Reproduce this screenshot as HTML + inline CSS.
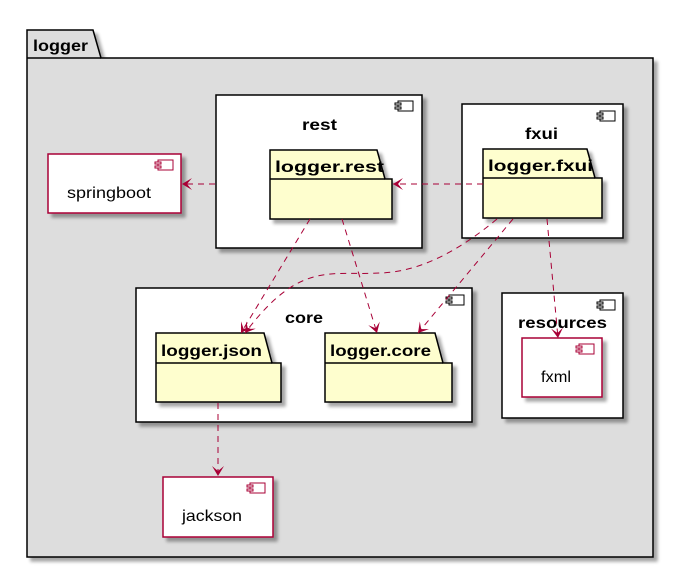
<!DOCTYPE html>
<html><head><meta charset="utf-8"><style>body{margin:0;background:#fff}svg{display:block}</style></head>
<body>
<svg width="678" height="571" viewBox="0 0 678 571" xmlns="http://www.w3.org/2000/svg" font-family="Liberation Sans, sans-serif">
<defs>
<filter id="sh" x="-10%" y="-10%" width="130%" height="130%"><feGaussianBlur in="SourceAlpha" stdDeviation="1.5"/><feOffset dx="4" dy="4"/><feComponentTransfer><feFuncA type="linear" slope="0.35"/></feComponentTransfer><feMerge><feMergeNode/><feMergeNode in="SourceGraphic"/></feMerge></filter>
<marker id="ar" viewBox="0 0 12 12" refX="10" refY="6" markerWidth="12" markerHeight="12" orient="auto" markerUnits="userSpaceOnUse"><path d="M0,0 L10,6 L0,12 L5,6 Z" fill="#A80036"/></marker>
</defs>
<!-- logger package -->
<g filter="url(#sh)">
<path d="M27,30 L93,30 L101,58 L653,58 L653,557 L27,557 Z" fill="#DDDDDD" stroke="#000" stroke-width="1.5"/>
</g>
<line x1="27" y1="58" x2="101" y2="58" stroke="#000" stroke-width="1.5"/>
<text x="33" y="51" font-size="16" font-weight="bold" textLength="55" lengthAdjust="spacingAndGlyphs">logger</text>

<!-- rest -->
<rect x="216" y="95" width="206" height="153" fill="#fff" stroke="#000" stroke-width="1.5" filter="url(#sh)"/>
<rect x="398" y="101" width="15" height="10" fill="#fff" stroke="#000" stroke-width="1"/><rect x="395" y="103" width="6" height="2" fill="#fff" stroke="#000" stroke-width="1"/><rect x="395" y="107" width="6" height="2" fill="#fff" stroke="#000" stroke-width="1"/>
<text x="302" y="130" font-size="16" font-weight="bold" textLength="35" lengthAdjust="spacingAndGlyphs">rest</text>
<g filter="url(#sh)"><path d="M270,150 L377,150 L385,179 L392,179 L392,219 L270,219 Z" fill="#FEFECE" stroke="#000" stroke-width="1.5"/></g>
<line x1="270" y1="179" x2="385" y2="179" stroke="#000" stroke-width="1.5"/>
<text x="275" y="172" font-size="16" font-weight="bold" textLength="109" lengthAdjust="spacingAndGlyphs">logger.rest</text>

<!-- fxui -->
<rect x="462" y="104" width="161" height="134" fill="#fff" stroke="#000" stroke-width="1.5" filter="url(#sh)"/>
<rect x="600" y="111" width="15" height="10" fill="#fff" stroke="#000" stroke-width="1"/><rect x="597" y="113" width="6" height="2" fill="#fff" stroke="#000" stroke-width="1"/><rect x="597" y="117" width="6" height="2" fill="#fff" stroke="#000" stroke-width="1"/>
<text x="525" y="139" font-size="16" font-weight="bold" textLength="33" lengthAdjust="spacingAndGlyphs">fxui</text>
<g filter="url(#sh)"><path d="M483,149 L587,149 L595,178 L602,178 L602,218 L483,218 Z" fill="#FEFECE" stroke="#000" stroke-width="1.5"/></g>
<line x1="483" y1="178" x2="595" y2="178" stroke="#000" stroke-width="1.5"/>
<text x="488" y="171" font-size="16" font-weight="bold" textLength="105" lengthAdjust="spacingAndGlyphs">logger.fxui</text>

<!-- springboot -->
<rect x="48" y="154" width="133" height="59" fill="#fff" stroke="#A80036" stroke-width="1.5" filter="url(#sh)"/>
<rect x="158" y="160" width="15" height="10" fill="#fff" stroke="#A80036" stroke-width="1"/><rect x="155" y="162" width="6" height="2" fill="#fff" stroke="#A80036" stroke-width="1"/><rect x="155" y="166" width="6" height="2" fill="#fff" stroke="#A80036" stroke-width="1"/>
<text x="67" y="198" font-size="16" textLength="84" lengthAdjust="spacingAndGlyphs">springboot</text>

<!-- core -->
<rect x="136" y="288" width="336" height="134" fill="#fff" stroke="#000" stroke-width="1.5" filter="url(#sh)"/>
<rect x="449" y="295" width="15" height="10" fill="#fff" stroke="#000" stroke-width="1"/><rect x="446" y="297" width="6" height="2" fill="#fff" stroke="#000" stroke-width="1"/><rect x="446" y="301" width="6" height="2" fill="#fff" stroke="#000" stroke-width="1"/>
<text x="285" y="323" font-size="16" font-weight="bold" textLength="38" lengthAdjust="spacingAndGlyphs">core</text>
<g filter="url(#sh)"><path d="M156,333 L264,333 L272,363 L281,363 L281,402 L156,402 Z" fill="#FEFECE" stroke="#000" stroke-width="1.5"/></g>
<line x1="156" y1="363" x2="272" y2="363" stroke="#000" stroke-width="1.5"/>
<text x="161" y="356" font-size="16" font-weight="bold" textLength="101" lengthAdjust="spacingAndGlyphs">logger.json</text>
<g filter="url(#sh)"><path d="M325,333 L435,333 L443,363 L452,363 L452,402 L325,402 Z" fill="#FEFECE" stroke="#000" stroke-width="1.5"/></g>
<line x1="325" y1="363" x2="443" y2="363" stroke="#000" stroke-width="1.5"/>
<text x="330" y="356" font-size="16" font-weight="bold" textLength="101" lengthAdjust="spacingAndGlyphs">logger.core</text>

<!-- resources -->
<rect x="502" y="293" width="121" height="125" fill="#fff" stroke="#000" stroke-width="1.5" filter="url(#sh)"/>
<rect x="600" y="300" width="15" height="10" fill="#fff" stroke="#000" stroke-width="1"/><rect x="597" y="302" width="6" height="2" fill="#fff" stroke="#000" stroke-width="1"/><rect x="597" y="306" width="6" height="2" fill="#fff" stroke="#000" stroke-width="1"/>
<text x="518" y="328" font-size="16" font-weight="bold" textLength="89" lengthAdjust="spacingAndGlyphs">resources</text>
<rect x="522" y="338" width="80" height="59" fill="#fff" stroke="#A80036" stroke-width="1.5" filter="url(#sh)"/>
<rect x="579" y="344" width="15" height="10" fill="#fff" stroke="#A80036" stroke-width="1"/><rect x="576" y="346" width="6" height="2" fill="#fff" stroke="#A80036" stroke-width="1"/><rect x="576" y="350" width="6" height="2" fill="#fff" stroke="#A80036" stroke-width="1"/>
<text x="541" y="382" font-size="16" textLength="30" lengthAdjust="spacingAndGlyphs">fxml</text>

<!-- jackson -->
<rect x="163" y="477" width="110" height="60" fill="#fff" stroke="#A80036" stroke-width="1.5" filter="url(#sh)"/>
<rect x="250" y="483" width="15" height="10" fill="#fff" stroke="#A80036" stroke-width="1"/><rect x="247" y="485" width="6" height="2" fill="#fff" stroke="#A80036" stroke-width="1"/><rect x="247" y="489" width="6" height="2" fill="#fff" stroke="#A80036" stroke-width="1"/>
<text x="182" y="521" font-size="16" textLength="60" lengthAdjust="spacingAndGlyphs">jackson</text>

<!-- arrows -->
<g stroke="#A80036" stroke-width="1" fill="none" stroke-dasharray="6,5" marker-end="url(#ar)">
<line x1="215" y1="184" x2="182" y2="184"/>
<line x1="483" y1="184" x2="393" y2="184"/>
<line x1="310" y1="219" x2="241" y2="333"/>
<line x1="342" y1="219" x2="377" y2="333"/>
<path d="M497,219 C460,250 420,272 380,273 C330,276 300,260 245,333"/>
<line x1="513" y1="219" x2="418" y2="333"/>
<line x1="547" y1="219" x2="558" y2="338"/>
<line x1="218" y1="403" x2="218" y2="476"/>
</g>
</svg>
</body></html>
